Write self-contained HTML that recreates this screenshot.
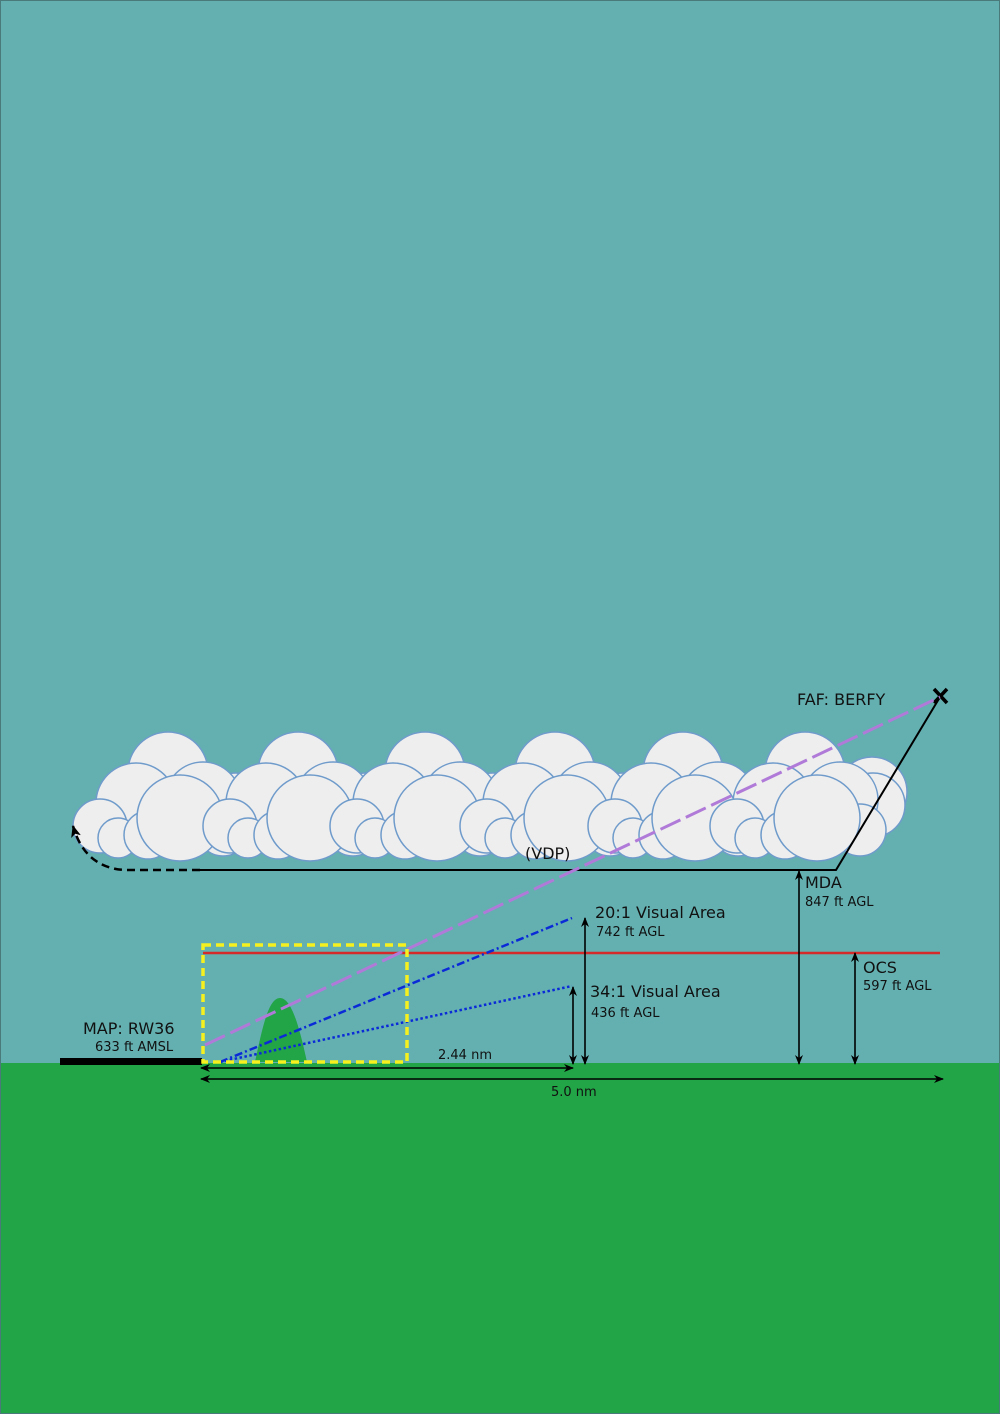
<!DOCTYPE html>
<html><head><style>body{margin:0}svg{display:block}text{font-family:"DejaVu Sans","Liberation Sans",sans-serif;fill:#111}</style></head>
<body>
<svg width="1000" height="1414" viewBox="0 0 1000 1414" xmlns="http://www.w3.org/2000/svg">
<defs>
<marker id="ah" markerWidth="12" markerHeight="10" refX="11" refY="5" orient="auto" markerUnits="userSpaceOnUse"><path d="M0,0 L12,5 L0,10 L3,5 Z" fill="#000"/></marker>
<marker id="ahs" markerWidth="10" markerHeight="8" refX="9" refY="4" orient="auto-start-reverse" markerUnits="userSpaceOnUse"><path d="M0,0 L10,4 L0,8 L3,4 Z" fill="#000"/></marker>
<g id="cloud" fill="#eeeeee" stroke="#6f9bcb" stroke-width="1.5">
<circle cx="68" cy="805" r="32"/>
<circle cx="0" cy="772" r="40"/>
<circle cx="35" cy="800" r="38"/>
<circle cx="-32" cy="803" r="40"/>
<circle cx="-68" cy="826" r="27"/>
<circle cx="-50" cy="838" r="20"/>
<circle cx="55" cy="830" r="26"/>
<circle cx="-20" cy="835" r="24"/>
<circle cx="12" cy="818" r="43"/>
</g>
</defs>
<rect width="1000" height="1414" fill="#64b0b1"/>
<rect y="1063" width="1000" height="351" fill="#22a546"/>
<rect x="0.5" y="0.5" width="999" height="1413" fill="none" stroke="#4a7a7a"/>
<use href="#cloud" x="168"/>
<use href="#cloud" x="298"/>
<use href="#cloud" x="425"/>
<use href="#cloud" x="555"/>
<use href="#cloud" x="683"/>
<g fill="#eeeeee" stroke="#6f9bcb" stroke-width="1.5">
<circle cx="872" cy="792" r="35"/>
</g>
<use href="#cloud" x="805"/>
<path d="M200,870 L836,870 L940,697" fill="none" stroke="#000" stroke-width="2"/>
<path d="M200,870 L125,870 Q85,868 73,826" fill="none" stroke="#000" stroke-width="2.5" stroke-dasharray="8,5" marker-end="url(#ah)"/>
<path d="M934,689 L947,703 M947,689 L934,703" stroke="#000" stroke-width="3.5"/>
<text x="797" y="705" font-size="16">FAF: BERFY</text>
<text x="525" y="859" font-size="16">(VDP)</text>
<rect x="60" y="1058" width="142" height="7" fill="#000"/>
<path d="M255,1062 C262,1030 268,998 280,998 C292,998 300,1030 307,1062 Z" fill="#22a546"/>
<line x1="203" y1="953" x2="940" y2="953" stroke="#d42a2a" stroke-width="2.5"/>
<line x1="205" y1="1045" x2="940" y2="697" stroke="#b07ad8" stroke-width="3" stroke-dasharray="22,6"/>
<line x1="220" y1="1062" x2="572" y2="918" stroke="#0a2ad8" stroke-width="2.5" stroke-dasharray="8,3,2,3"/>
<line x1="220" y1="1062" x2="572" y2="986" stroke="#0a2ad8" stroke-width="2.5" stroke-dasharray="2.5,2.5"/>
<rect x="203" y="945" width="204" height="117" fill="none" stroke="#f5f01e" stroke-width="3.5" stroke-dasharray="8,5"/>
<g stroke="#000" stroke-width="1.6" fill="none">
<line x1="201" y1="1068" x2="573" y2="1068" marker-start="url(#ahs)" marker-end="url(#ahs)"/>
<line x1="201" y1="1079" x2="943" y2="1079" marker-start="url(#ahs)" marker-end="url(#ahs)"/>
<line x1="573" y1="987" x2="573" y2="1064" marker-start="url(#ahs)" marker-end="url(#ahs)"/>
<line x1="585" y1="918" x2="585" y2="1064" marker-start="url(#ahs)" marker-end="url(#ahs)"/>
<line x1="799" y1="871" x2="799" y2="1064" marker-start="url(#ahs)" marker-end="url(#ahs)"/>
<line x1="855" y1="953" x2="855" y2="1064" marker-start="url(#ahs)" marker-end="url(#ahs)"/>
</g>
<text x="83" y="1034" font-size="16">MAP: RW36</text>
<text x="95" y="1051" font-size="13">633 ft AMSL</text>
<text x="438" y="1059" font-size="13">2.44 nm</text>
<text x="551" y="1096" font-size="13">5.0 nm</text>
<text x="595" y="918" font-size="16">20:1 Visual Area</text>
<text x="596" y="936" font-size="13">742 ft AGL</text>
<text x="590" y="997" font-size="16">34:1 Visual Area</text>
<text x="591" y="1017" font-size="13">436 ft AGL</text>
<text x="805" y="888" font-size="16">MDA</text>
<text x="805" y="906" font-size="13">847 ft AGL</text>
<text x="863" y="973" font-size="16">OCS</text>
<text x="863" y="990" font-size="13">597 ft AGL</text>
</svg>
</body></html>
